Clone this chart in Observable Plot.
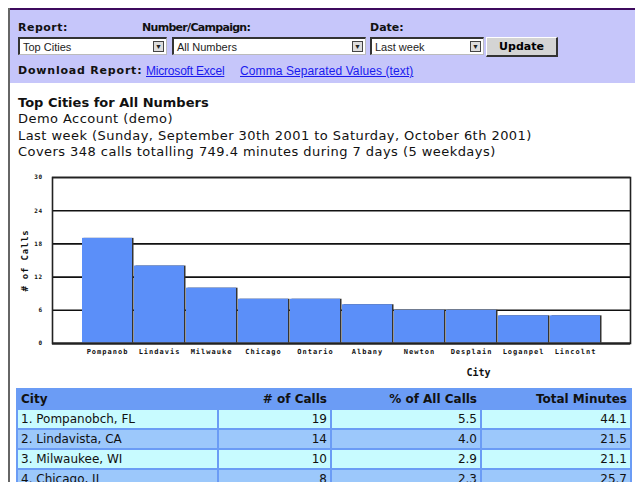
<!DOCTYPE html>
<html>
<head>
<meta charset="utf-8">
<script src="https://cdn.jsdelivr.net/npm/d3@7"></script>
<script src="https://cdn.jsdelivr.net/npm/@observablehq/plot@0.6"></script>
<style>
  html, body { margin: 0; padding: 0; width: 635px; height: 482px; overflow: hidden; background: #fff; }
  .ui { font-family: "DejaVu Sans", sans-serif; font-weight: bold; font-size: 11px; color: #111; white-space: nowrap; }
  .sel { background: #fff; border-top: 2px solid #333; border-left: 2px solid #333; border-bottom: 1px solid #bbb; border-right: 1px solid #bbb; box-sizing: border-box; font-family: "Liberation Sans", Arial, sans-serif; font-size: 11px; color: #222; padding: 2px 0 0 3px; white-space: nowrap; }
  .arrow { position: absolute; right: 2px; top: 2px; width: 11px; height: 11px; background: #ddd; border: 1px solid #444; box-sizing: border-box; font-size: 7px; line-height: 10px; text-align: center; }
  .btn { background: #d4d4d4; border-top: 1px solid #fff; border-left: 1px solid #fff; border-right: 2px solid #333; border-bottom: 2px solid #333; box-sizing: border-box; font-family: "DejaVu Sans", sans-serif; font-weight: bold; font-size: 11px; text-align: center; line-height: 17px; }
  .lnk { font-family: "Liberation Sans", Arial, sans-serif; font-size: 12px; color: #1a1aee; text-decoration: underline; white-space: nowrap; }
  .info { font-family: "DejaVu Sans", sans-serif; font-size: 13px; letter-spacing: 0.45px; color: #111; white-space: nowrap; }
  .cell { position: absolute; height: 18px; box-sizing: border-box; font-family: "DejaVu Sans", sans-serif; font-size: 12px; line-height: 18px; padding: 0 3px; color: #111; white-space: nowrap; overflow: hidden; }
  g[aria-label="x-axis tick label"] text { letter-spacing: 1px; }
  g[aria-label="y-axis tick label"] text { letter-spacing: 0.5px; }
  .ylab { letter-spacing: 0.8px; }
</style>
</head>
<body>
<div id="page"></div>
<script>
// ---- data ----
const cities = ["Pompanob", "Lindavis", "Milwauke", "Chicago", "Ontario", "Albany", "Newton", "Desplain", "Loganpel", "Lincolnt"];
const calls = [19, 14, 10, 8, 8, 7, 6, 6, 5, 5];
const yTicks = [0, 6, 12, 18, 24, 30];

const tableHeaders = ["City", "# of Calls", "% of All Calls", "Total Minutes"];
const tableCity = ["1. Pompanobch, FL", "2. Lindavista, CA", "3. Milwaukee, WI", "4. Chicago, IL"];
const tableCalls = ["19", "14", "10", "8"];
const tablePct = ["5.5", "4.0", "2.9", "2.3"];
const tableMinutes = ["44.1", "21.5", "21.1", "25.7"];

const infoLines = [
  "Top Cities for All Numbers",
  "Demo Account (demo)",
  "Last week (Sunday, September 30th 2001 to Saturday, October 6th 2001)",
  "Covers 348 calls totalling 749.4 minutes during 7 days (5 weekdays)"
];

const page = document.getElementById("page");
function el(cls, css, text, parent) {
  const d = document.createElement("div");
  d.className = cls;
  d.setAttribute("style", "position:absolute;" + css);
  if (text != null) d.textContent = text;
  (parent || page).appendChild(d);
  return d;
}

// page frame
el("", "left:8px;top:8px;width:627px;height:2px;background:#3e0a5e;");
el("", "left:8px;top:10px;width:627px;height:73px;background:#c6c6fa;");
el("", "left:8px;top:8px;width:2px;height:474px;background:#666;");

// controls
el("ui", "left:18px;top:21px;letter-spacing:0.5px;", "Report:");
el("ui", "left:142px;top:21px;letter-spacing:-0.7px;", "Number/Campaign:");
el("ui", "left:370px;top:21px;", "Date:");
function select(x, w, text) {
  const s = el("sel", `left:${x}px;top:37px;width:${w}px;height:18px;`, text);
  el("arrow", "", "▼", s);
}
select(18, 149, "Top Cities");
select(172, 194, "All Numbers");
select(370, 114, "Last week");
el("btn", "left:486px;top:37px;width:72px;height:20px;", "Update");
el("ui", "left:18px;top:64px;letter-spacing:0.8px;", "Download Report:");
el("lnk", "left:146px;top:64px;letter-spacing:-0.2px;", "Microsoft Excel");
el("lnk", "left:240px;top:64px;letter-spacing:0.1px;", "Comma Separated Values (text)");

// info text
infoLines.forEach((t, i) => {
  el("info", `left:18px;top:${95 + i * 16.3}px;${i === 0 ? "font-weight:bold;letter-spacing:0;" : ""}`, t);
});

// ---- chart ----
const data = cities.map((c, i) => ({city: c, calls: calls[i]}));
const mono = "'DejaVu Sans Mono', monospace";
const chart = Plot.plot({
  width: 635,
  height: 215,
  marginLeft: 52,
  marginRight: 5,
  marginTop: 7,
  marginBottom: 42,
  style: {background: "transparent", fontFamily: mono, color: "#111"},
  x: {domain: cities, paddingInner: 0.04, paddingOuter: 0.5, axis: null},
  y: {domain: [0, 30], axis: null},
  marks: [
    Plot.gridY(yTicks, {stroke: "#111", strokeOpacity: 1, strokeWidth: 1.6}),
    Plot.barY(data, {x: "city", y: "calls", fill: "#333", dx: 1.5}),
    Plot.barY(data, {x: "city", y: "calls", fill: "#5b8ff9"}),
    Plot.ruleY([0], {stroke: "#555", strokeWidth: 2.5}),
    Plot.frame({stroke: "#222", strokeWidth: 1.6}),
    Plot.axisY(yTicks, {tickSize: 0, tickPadding: 10, fontSize: 6, fontWeight: "bold", label: null}),
    Plot.axisX({tickSize: 0, tickPadding: 6, fontSize: 7, fontWeight: "bold", label: null}),
    Plot.text(["# of Calls"], {frameAnchor: "left", textAnchor: "middle", lineAnchor: "middle", rotate: -90, dx: -27, fontSize: 9, fontWeight: "bold"}),
    Plot.text(["City"], {frameAnchor: "bottom", textAnchor: "middle", lineAnchor: "middle", dx: 137, dy: 29, fontSize: 10, fontWeight: "bold"})
  ]
});
chart.style.position = "absolute";
chart.style.left = "0px";
chart.style.top = "170px";
d3.select(chart).selectAll("text").filter(function() { return this.textContent === "# of Calls"; }).attr("class", "ylab");
page.appendChild(chart);

// ---- table ----
const colX = [18, 219, 332, 482];
const colW = [199, 111, 148, 148];
const align = ["left", "right", "right", "right"];
el("", "left:16px;top:388px;width:616px;height:94px;background:#6b9cf5;");
tableHeaders.forEach((h, j) => {
  el("cell", `left:${colX[j]}px;top:390px;width:${colW[j]}px;text-align:${align[j]};font-weight:bold;background:#6b9cf5;`, h);
});
const cols = [tableCity, tableCalls, tablePct, tableMinutes];
tableCity.forEach((_, i) => {
  const bg = i % 2 === 0 ? "#c8fbff" : "#9cc8fb";
  cols.forEach((col, j) => {
    el("cell", `left:${colX[j]}px;top:${410 + i * 20}px;width:${colW[j]}px;text-align:${align[j]};background:${bg};`, col[i]);
  });
});
</script>
</body>
</html>
